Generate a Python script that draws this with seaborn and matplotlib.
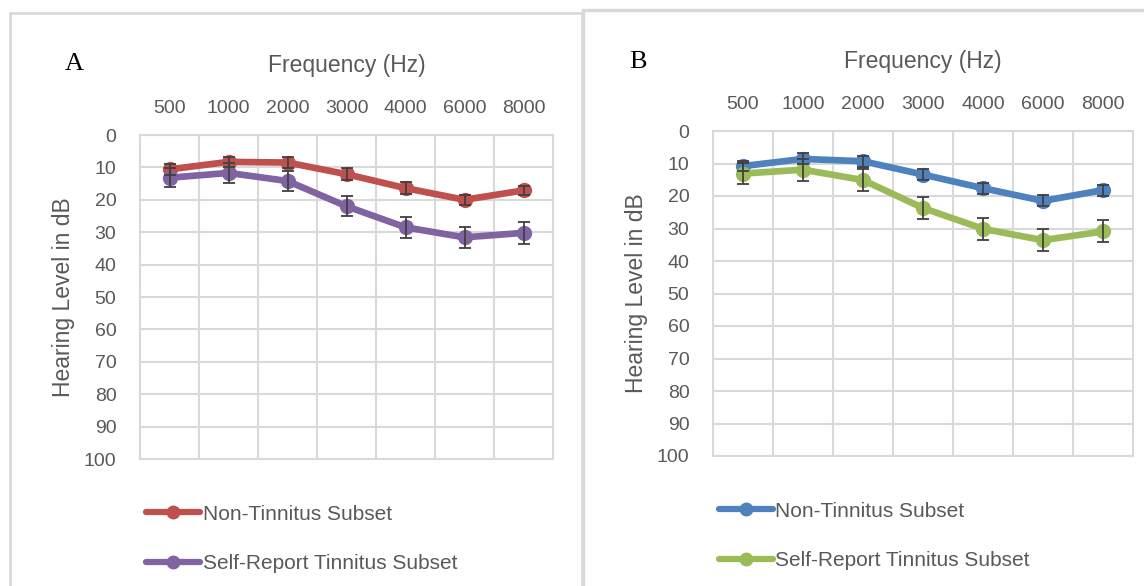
import numpy as np
import pandas as pd
import matplotlib.pyplot as plt
import seaborn as sns
from matplotlib.patches import Rectangle
from matplotlib.lines import Line2D

freqs = ['500', '1000', '2000', '3000', '4000', '6000', '8000']

# panel A
a_non = [10.6, 8.3, 8.5, 12.1, 16.4, 20.0, 17.1]
a_non_err = [1.6, 1.6, 1.8, 1.8, 1.8, 1.6, 1.5]
a_self = [13.2, 11.7, 14.2, 22.0, 28.5, 31.6, 30.2]
a_self_err = [3.0, 3.1, 3.0, 3.1, 3.2, 3.3, 3.3]

# panel B
b_non = [10.8, 8.6, 9.3, 13.4, 17.6, 21.5, 18.2]
b_non_err = [1.6, 1.7, 1.7, 1.8, 1.7, 1.7, 1.7]
b_self = [13.1, 11.9, 15.1, 23.7, 30.1, 33.6, 30.9]
b_self_err = [3.3, 3.4, 3.4, 3.3, 3.4, 3.4, 3.4]

series_names = ['Non-Tinnitus Subset', 'Self-Report Tinnitus Subset']

sns.set_theme(style='white')
plt.rcParams['font.family'] = ['Liberation Sans', 'DejaVu Sans']
txt = '#595959'
grid_c = '#d9d9d9'

fig = plt.figure(figsize=(11.44, 5.86), dpi=100)

# panel frames
fig.patches.append(Rectangle((10 / 1144, -0.05), 572 / 1144, 1 - 13 / 586 + 0.05,
                             transform=fig.transFigure, fill=False, ec=grid_c, lw=2))
fig.patches.append(Rectangle((582.5 / 1144, -0.05), 0.6, 1 - 10 / 586 + 0.05,
                             transform=fig.transFigure, fill=False, ec=grid_c, lw=2.5))


def draw_panel(rect, letter, non, non_err, selfr, selfr_err, colors, letter_xy, title_y):
    ax = fig.add_axes(rect)
    x = np.arange(len(freqs))
    df = pd.DataFrame({
        'pos': np.concatenate([x, x]),
        'level': non + selfr,
        'group': [series_names[0]] * len(x) + [series_names[1]] * len(x),
    })
    sns.lineplot(data=df, x='pos', y='level', hue='group', palette=colors,
                 marker='o', markersize=11, markeredgewidth=0, linewidth=4.8,
                 legend=False, ax=ax, zorder=3)
    for vals, errs in [(non, non_err), (selfr, selfr_err)]:
        ax.errorbar(x, vals, yerr=errs, fmt='none', ecolor='#404040', elinewidth=1.3,
                    capsize=4.5, capthick=1.3, zorder=4)

    ax.set_xlim(-0.5, len(freqs) - 0.5)
    ax.set_ylim(100, 0)
    ax.set_yticks(np.arange(0, 101, 10))
    ax.set_xticks(x)
    ax.set_xticklabels(freqs)
    ax.set_xticks(np.arange(0.5, len(freqs) - 0.5, 1), minor=True)
    ax.xaxis.tick_top()
    ax.tick_params(axis='x', which='both', length=0, pad=13, labelsize=14, colors=txt)
    ax.tick_params(axis='y', length=0, pad=17, labelsize=14, colors=txt)
    ax.grid(True, axis='y', color=grid_c, lw=1.5)
    ax.grid(True, axis='x', which='minor', color=grid_c, lw=1.5)
    for s in ax.spines.values():
        s.set_color(grid_c)
        s.set_linewidth(1.5)
    ax.set_xlabel('')
    ax.set_ylabel('Hearing Level in dB', fontsize=16.5, color=txt, labelpad=6)
    ax.text(0.5, title_y, 'Frequency (Hz)', transform=ax.transAxes, ha='center',
            va='center', fontsize=16.5, color=txt)
    fig.text(letter_xy[0], letter_xy[1], letter, fontsize=19, family='Liberation Serif',
             color='black', ha='left', va='center')

    handles = [Line2D([0], [0], color=c, lw=4.5, marker='o', markersize=10,
                      markeredgewidth=0) for c in colors]
    ax.legend(handles, series_names, loc='upper left', bbox_to_anchor=(-0.005, -0.115),
              frameon=False, fontsize=15, handlelength=2.6, handletextpad=0.1,
              labelspacing=1.45, labelcolor=txt, borderaxespad=0)
    return ax


draw_panel([140 / 1144, 127 / 586, 413 / 1144, 324 / 586], 'A',
           a_non, a_non_err, a_self, a_self_err, ['#C0504D', '#8064A2'],
           (65 / 1144, 1 - 64 / 586), 1.215)
draw_panel([713 / 1144, 130 / 586, 420 / 1144, 325 / 586], 'B',
           b_non, b_non_err, b_self, b_self_err, ['#4F81BD', '#9BBB59'],
           (629 / 1144, 1 - 62 / 586), 1.215)

fig.savefig('out.png', dpi=100)
